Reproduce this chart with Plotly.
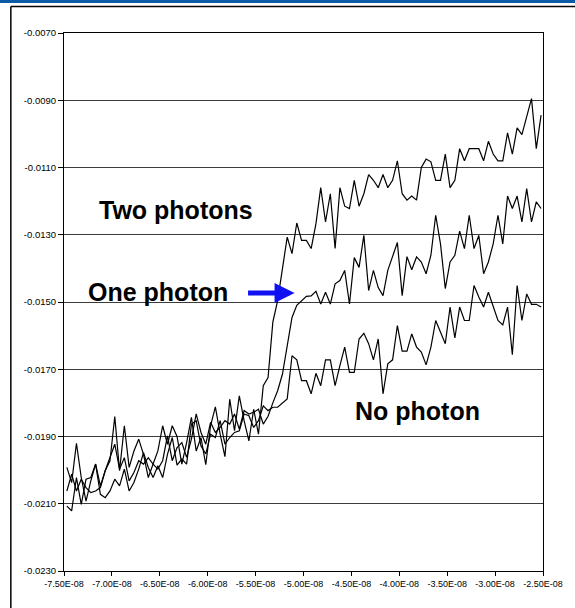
import plotly.graph_objects as go

# ---------------- data ----------------
T0 = -7.47e-08          # first sample time (s)
DT = 5.0e-10            # sampling step (s)

two_photons = [
    -0.01992, -0.02037, -0.01920, -0.02022, -0.02092, -0.02032, -0.01982, -0.02047, -0.02002, -0.01972,
    -0.01841, -0.02002, -0.01868, -0.01992, -0.01943, -0.01908, -0.01953, -0.02022, -0.01982, -0.01943,
    -0.01868, -0.01923, -0.01868, -0.01900, -0.01982, -0.01918, -0.01843, -0.01943, -0.01903, -0.01984,
    -0.01868, -0.01812, -0.01893, -0.01960, -0.01789, -0.01883, -0.01779, -0.01853, -0.01913, -0.01819,
    -0.01893, -0.01749, -0.01725, -0.01560, -0.01496, -0.01397, -0.01307, -0.01356, -0.01265, -0.01317,
    -0.01317, -0.01341, -0.01267, -0.01160, -0.01262, -0.01178, -0.01341, -0.01160, -0.01215, -0.01222,
    -0.01138, -0.01215, -0.01178, -0.01121, -0.01138, -0.01160, -0.01121, -0.01160, -0.01138, -0.01080,
    -0.01178, -0.01197, -0.01185, -0.01197, -0.01100, -0.01075, -0.01083, -0.01138, -0.01138, -0.01060,
    -0.01160, -0.01138, -0.01044, -0.01080, -0.01044, -0.01044, -0.01044, -0.01080, -0.01022, -0.01060,
    -0.01080, -0.01080, -0.00997, -0.01060, -0.00982, -0.01002, -0.00944, -0.00895, -0.01044, -0.00944,
]

one_photon = [
    -0.02062, -0.02012, -0.02062, -0.02027, -0.02052, -0.02067, -0.02062, -0.02052, -0.02002, -0.01963,
    -0.01923, -0.01997, -0.01963, -0.02032, -0.02007, -0.01972, -0.01982, -0.01963, -0.01982, -0.01997,
    -0.01972, -0.01898, -0.01972, -0.01933, -0.01918, -0.01962, -0.01908, -0.01833, -0.01888, -0.01923,
    -0.01858, -0.01888, -0.01873, -0.01853, -0.01863, -0.01833, -0.01878, -0.01823, -0.01833, -0.01828,
    -0.01819, -0.01863, -0.01840, -0.01800, -0.01764, -0.01715, -0.01630, -0.01546, -0.01510, -0.01495,
    -0.01483, -0.01482, -0.01468, -0.01506, -0.01471, -0.01506, -0.01446, -0.01436, -0.01406, -0.01506,
    -0.01368, -0.01397, -0.01302, -0.01466, -0.01406, -0.01457, -0.01481, -0.01406, -0.01362, -0.01323,
    -0.01481, -0.01365, -0.01404, -0.01366, -0.01381, -0.01416, -0.01361, -0.01242, -0.01327, -0.01460,
    -0.01381, -0.01361, -0.01289, -0.01341, -0.01242, -0.01341, -0.01302, -0.01416, -0.01381, -0.01327,
    -0.01242, -0.01327, -0.01185, -0.01222, -0.01185, -0.01262, -0.01163, -0.01262, -0.01202, -0.01222,
]

no_photon = [
    -0.02107, -0.02121, -0.02022, -0.02102, -0.02027, -0.02022, -0.01982, -0.02072, -0.02082, -0.02062,
    -0.02027, -0.02047, -0.01997, -0.02062, -0.02037, -0.01997, -0.01948, -0.01992, -0.02022, -0.01987,
    -0.02022, -0.01953, -0.01903, -0.01985, -0.01967, -0.01982, -0.01863, -0.01853, -0.01928, -0.01952,
    -0.01893, -0.01903, -0.01853, -0.01923, -0.01903, -0.01888, -0.01883, -0.01833, -0.01838, -0.01873,
    -0.01853, -0.01809, -0.01823, -0.01813, -0.01813, -0.01800, -0.01788, -0.01660, -0.01672, -0.01734,
    -0.01734, -0.01773, -0.01712, -0.01749, -0.01672, -0.01672, -0.01749, -0.01689, -0.01634, -0.01709,
    -0.01709, -0.01610, -0.01593, -0.01624, -0.01672, -0.01610, -0.01773, -0.01684, -0.01672, -0.01570,
    -0.01646, -0.01646, -0.01595, -0.01634, -0.01649, -0.01687, -0.01634, -0.01555, -0.01588, -0.01624,
    -0.01515, -0.01607, -0.01515, -0.01555, -0.01555, -0.01451, -0.01485, -0.01515, -0.01471, -0.01515,
    -0.01555, -0.01568, -0.01515, -0.01657, -0.01451, -0.01555, -0.01476, -0.01507, -0.01507, -0.01515,
]

x_tick_vals = [-7.5e-08, -7.0e-08, -6.5e-08, -6.0e-08, -5.5e-08, -5.0e-08,
               -4.5e-08, -4.0e-08, -3.5e-08, -3.0e-08, -2.5e-08]
x_tick_text = ["-7.50E-08", "-7.00E-08", "-6.50E-08", "-6.00E-08", "-5.50E-08", "-5.00E-08",
               "-4.50E-08", "-4.00E-08", "-3.50E-08", "-3.00E-08", "-2.50E-08"]
y_tick_vals = [-0.0230, -0.0210, -0.0190, -0.0170, -0.0150, -0.0130, -0.0110, -0.0090, -0.0070]
y_tick_text = ["-0.0230", "-0.0210", "-0.0190", "-0.0170", "-0.0150", "-0.0130", "-0.0110", "-0.0090", "-0.0070"]

label_two = "Two photons"
label_one = "One photon"
label_none = "No photon"

# ---------------- figure ----------------
W, H = 575, 608
ML, MR, MT, MB = 64, 29, 33, 37
PW, PH = W - ML - MR, H - MT - MB


def px_x(px):
    return (px - ML) / PW


def px_y(py):
    return 1 - (py - MT) / PH


times = [T0 + k * DT for k in range(len(two_photons))]

FONT = "Liberation Sans, Arial, sans-serif"

fig = go.Figure()
for series in (two_photons, one_photon, no_photon):
    fig.add_trace(go.Scatter(x=times, y=series, mode="lines",
                             line=dict(color="black", width=1.2),
                             hoverinfo="skip", showlegend=False))

fig.update_layout(
    width=W, height=H,
    margin=dict(l=ML, r=MR, t=MT, b=MB, pad=0),
    paper_bgcolor="white", plot_bgcolor="white",
    showlegend=False,
    font=dict(family=FONT, color="black"),
)
fig.update_xaxes(
    range=[-7.5e-08, -2.5e-08],
    tickmode="array", tickvals=x_tick_vals, ticktext=x_tick_text,
    ticks="outside", ticklen=4, tickcolor="black", tickwidth=1,
    showgrid=False, zeroline=False,
    showline=True, linecolor="black", linewidth=1, mirror=True,
    tickfont=dict(family=FONT, size=9, color="black"),
)
fig.update_yaxes(
    range=[-0.02300005, -0.00699995],
    tickmode="array", tickvals=y_tick_vals, ticktext=y_tick_text,
    ticks="outside", ticklen=5, tickcolor="black", tickwidth=1,
    showgrid=True, gridcolor="#3c3c3c", gridwidth=1, zeroline=False,
    showline=True, linecolor="black", linewidth=1, mirror=True,
    tickfont=dict(family=FONT, size=9.5, color="black"),
)

# white cover along the right edge (the reference frame is open on the right)
fig.add_shape(type="rect", xref="paper", yref="paper",
              x0=px_x(566), x1=px_x(580), y0=px_y(620), y1=px_y(8),
              line=dict(width=0), fillcolor="white", layer="above")
# outer frame (only left and top edges are inside the picture) and top blue band
fig.add_shape(type="line", xref="paper", yref="paper",
              x0=px_x(10.5), x1=px_x(10.5), y0=px_y(6.5), y1=px_y(612),
              line=dict(color="black", width=1.5))
fig.add_shape(type="line", xref="paper", yref="paper",
              x0=px_x(10.5), x1=px_x(580), y0=px_y(6.5), y1=px_y(6.5),
              line=dict(color="black", width=1.5))
fig.add_shape(type="rect", xref="paper", yref="paper",
              x0=px_x(-5), x1=px_x(580), y0=px_y(3), y1=px_y(-3),
              line=dict(width=0), fillcolor="#0a5aa8", layer="above")

text_font = dict(family=FONT, size=25, color="black")
fig.add_annotation(xref="paper", yref="paper", x=px_x(97), y=px_y(210),
                   text="<b>%s</b>" % label_two, showarrow=False,
                   xanchor="left", yanchor="middle", font=text_font)
fig.add_annotation(xref="paper", yref="paper", x=px_x(86), y=px_y(292),
                   text="<b>%s</b>" % label_one, showarrow=False,
                   xanchor="left", yanchor="middle", font=text_font)
fig.add_annotation(xref="paper", yref="paper", x=px_x(355), y=px_y(411),
                   text="<b>%s</b>" % label_none, showarrow=False,
                   xanchor="left", yanchor="middle", font=text_font)
# blue arrow
fig.add_annotation(xref="paper", yref="paper", x=px_x(296), y=px_y(293),
                   ax=-48, ay=0, text="", showarrow=True,
                   arrowhead=2, arrowsize=0.8, arrowwidth=5, arrowcolor="#1010f0")

fig.write_html("out.html",
               config={"displayModeBar": False},
               post_script="document.body.style.margin='0';document.body.style.overflow='hidden';"
                           "document.documentElement.style.overflow='hidden';")
